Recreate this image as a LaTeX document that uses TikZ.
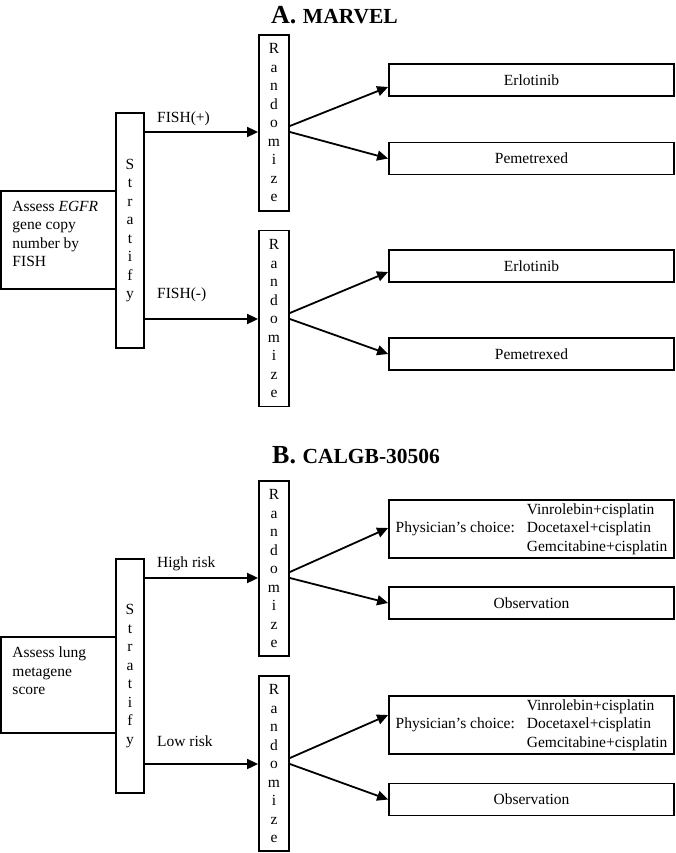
\documentclass[tikz,border=0pt]{standalone}
\usepackage{fontspec}
\setmainfont{Liberation Serif}
\usetikzlibrary{arrows.meta}

\begin{document}
\begin{tikzpicture}[x=1pt, y=-1pt,
    font=\fontsize{15.5}{18.5}\selectfont,
    box/.style={draw, line width=1.8pt, inner sep=0pt},
    armbox/.style={box, minimum width=285pt, minimum height=32pt},
    choicebox/.style={box, minimum width=285pt, minimum height=58pt},
    column/.style={box, align=center, minimum width=28pt},
    randcol/.style={column, minimum width=30pt},
    assessbox/.style={box, inner xsep=11.5pt, inner ysep=10pt},
    arr/.style={line width=1.8pt, -{Triangle[length=11pt,width=10pt]}},
    lbl/.style={anchor=west, inner sep=0pt},
    ttl/.style={anchor=base west, inner sep=0pt, font=\bfseries}]
\useasboundingbox (0,0) rectangle (675,853);

% A. MARVEL
\node[ttl] (titleA) at (271,24) {\fontsize{26}{30}\selectfont A. \fontsize{21.5}{26}\selectfont MARVEL};

\node[assessbox] (assessA) at (58.5,240)
  {\parbox[c][78pt][t]{92pt}{\raggedright Assess \textit{EGFR}\\gene copy\\number by\\FISH}};
\node[column, minimum height=235pt] (stratA) at (130,230.5) {S\\t\\r\\a\\t\\i\\f\\y};

\foreach \n/\y in {randA1/123, randA2/318.5}
  \node[randcol, minimum height=176pt] (\n) at (274,\y) {R\\a\\n\\d\\o\\m\\i\\z\\e};

\foreach \n/\t/\y in {erlA1/Erlotinib/80, pemA1/Pemetrexed/158.5,
                      erlA2/Erlotinib/266, pemA2/Pemetrexed/354}
  \node[armbox] (\n) at (531.5,\y) {\t};

\draw[arr] (stratA.east |- 0,132) -- (randA1.west |- 0,132);
\draw[arr] (stratA.east |- 0,319) -- (randA2.west |- 0,319);
\node[lbl] (fishpos) at (157,119) {FISH(+)};
\node[lbl] (fishneg) at (157,295) {FISH(-)};

% B. CALGB-30506
\node[ttl] (titleB) at (272,463) {\fontsize{26}{30}\selectfont B. \fontsize{21.5}{26}\selectfont CALGB-30506};

\node[assessbox] (assessB) at (58.5,685)
  {\parbox[c][76pt][t]{92pt}{\raggedright Assess lung\\metagene\\score}};
\node[column, minimum height=234pt] (stratB) at (130,676) {S\\t\\r\\a\\t\\i\\f\\y};

\foreach \n/\y in {randB1/568.5, randB2/763.5}
  \node[randcol, minimum height=175pt] (\n) at (274,\y) {R\\a\\n\\d\\o\\m\\i\\z\\e};

\foreach \n/\y in {physB1/529, physB2/725}
  \node[choicebox] (\n) at (531.5,\y)
    {\begin{tabular}{@{}l@{\hspace{12pt}}l@{}}
       & Vinrolebin+cisplatin\\
     Physician's choice: & Docetaxel+cisplatin\\
       & Gemcitabine+cisplatin
     \end{tabular}};
\foreach \n/\y in {obsB1/603, obsB2/799.5}
  \node[armbox] (\n) at (531.5,\y) {Observation};

\draw[arr] (stratB.east |- 0,578) -- (randB1.west |- 0,578);
\draw[arr] (stratB.east |- 0,764) -- (randB2.west |- 0,764);
\node[lbl] (highrisk) at (157,564) {High risk};
\node[lbl] (lowrisk) at (157,741) {Low risk};

% randomized arms
\foreach \r/\ya/\yb/\u/\yu/\d in {randA1/126/132/erlA1/87/pemA1,
                                  randA2/313/319/erlA2/272/pemA2,
                                  randB1/572/578/physB1/528/obsB1,
                                  randB2/758/764/physB2/715/obsB2}{
  \draw[arr] (\r.east |- 0,\ya) -- (\u.west |- 0,\yu);
  \draw[arr] (\r.east |- 0,\yb) -- (\d.west);
}
\end{tikzpicture}
\end{document}
